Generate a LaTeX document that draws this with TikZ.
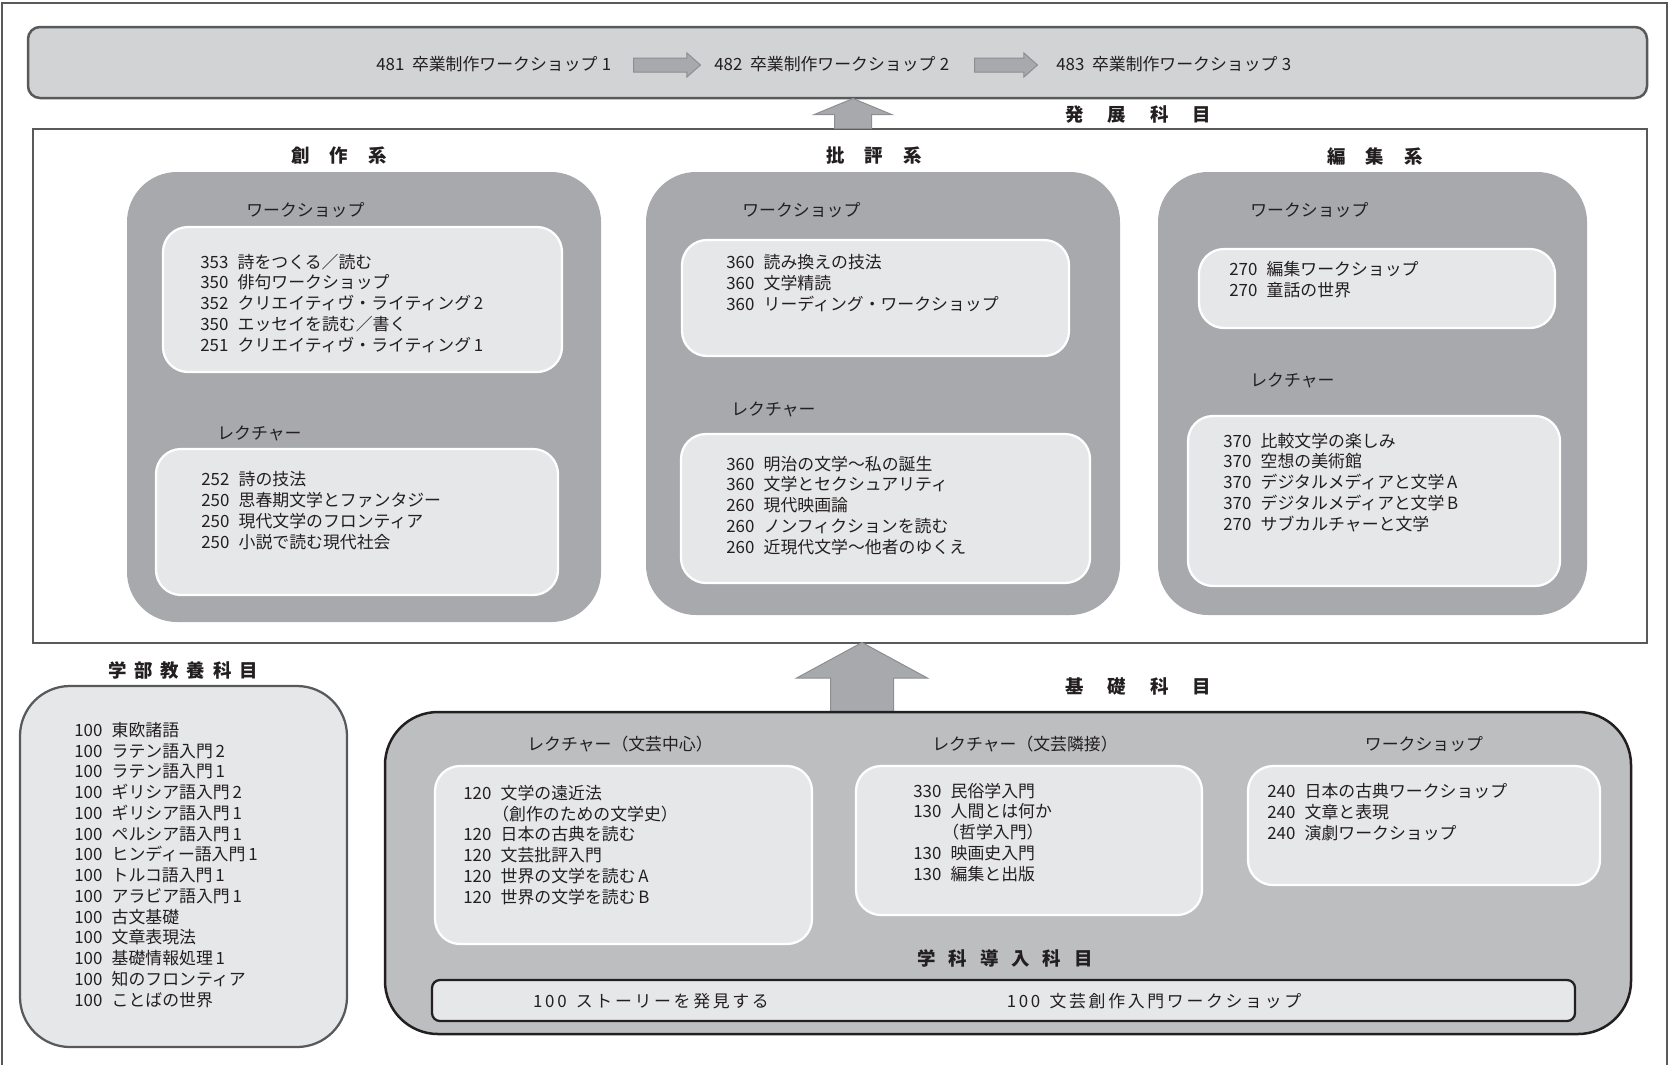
\documentclass[tikz,border=0pt]{standalone}
\usepackage{fontspec}
\setmainfont{Noto Sans CJK JP}
\usepackage{xcolor}
\usetikzlibrary{positioning, fit, shapes.arrows}
\definecolor{bandgray}{HTML}{D1D3D4}
\definecolor{colgray}{HTML}{A7A9AC}
\definecolor{boxgray}{HTML}{E6E7E8}
\definecolor{kisogray}{HTML}{BCBEC0}
\definecolor{linegray}{HTML}{58595B}
\definecolor{inkblack}{HTML}{231F20}
\definecolor{arrowedge}{HTML}{8C8E91}
\newcommand{\crs}[2]{#1\hspace{.55em}#2}
\newcommand{\contline}[1]{\phantom{000}\hspace{.05em}#1}
\tikzstyle{Band} = [draw=linegray, line width=0.05cm, fill=bandgray,
rounded corners=0.24cm, inner sep=0]
\tikzstyle{Frame} = [draw=linegray, line width=0.045cm, inner sep=0]
\tikzstyle{Column} = [fill=colgray, rounded corners=1cm, inner sep=0]
\tikzstyle{Panel} = [draw=white, line width=0.045cm, fill=boxgray,
rounded corners=0.5cm, inner sep=0]
\tikzstyle{List} = [align=left, inner sep=0, text=inkblack,
font=\fontsize{9.6}{11.8}\selectfont]
\tikzstyle{Label} = [inner sep=0, text=inkblack,
font=\fontsize{9.6}{11.8}\selectfont]
\tikzstyle{Heading} = [inner sep=0, text=inkblack,
font=\fontsize{10.5}{12}\selectfont\bfseries]
\tikzstyle{FatArrow} = [single arrow, draw=arrowedge, fill=colgray,
line width=0.02cm, inner xsep=0, minimum width=0pt, anchor=tail]

\begin{document}
\begin{tikzpicture}[x=0.02cm, y=-0.02cm]
    \useasboundingbox (0,0) rectangle (1672,1065);
    \draw[linegray, line width=0.04cm] (2,1065) -- (2,3) -- (1667,3) -- (1667,1065);

    \node[Band, fit={(28,27)(1647,98)}] (develop) {};
    \node[Label, anchor=base west] (t481) at (376,70) {481\hspace{.45em}卒業制作ワークショップ\hspace{.25em}1};
    \node[Label, anchor=base west] (t482) at (714,70) {482\hspace{.45em}卒業制作ワークショップ\hspace{.25em}2};
    \node[Label, anchor=base west] (t483) at (1056,70) {483\hspace{.45em}卒業制作ワークショップ\hspace{.25em}3};
    \node[FatArrow, minimum height=1.34cm, inner ysep=0.13cm,
        single arrow head extend=0.1cm, single arrow tip angle=83] (next1) at (633,65) {};
    \node[FatArrow, minimum height=1.26cm, inner ysep=0.13cm,
        single arrow head extend=0.1cm, single arrow tip angle=83] (next2) at (974,65) {};
    \node[Heading] (develophead) at (1138,115) {発\hspace{1.3em}展\hspace{1.3em}科\hspace{1.3em}目};

    \node[Frame, fit={(33,129)(1647,643)}] (upper) {};
    \node[FatArrow, rotate=90, minimum height=0.6cm, inner ysep=0.36cm,
        single arrow head extend=0.41cm, single arrow tip angle=135] (toDevelop) at (853,129) {};

    \node[Heading] (sousakuhead) at (339,156) {創\hspace{1.1em}作\hspace{1.1em}系};
    \node[Heading] (hihyouhead) at (874,156) {批\hspace{1.1em}評\hspace{1.1em}系};
    \node[Heading] (henshuuhead) at (1375,156) {編\hspace{1.1em}集\hspace{1.1em}系};

    \node[Column, fit={(127,172)(601,622)}] (sousaku) {};
    \node[Column, fit={(646,172)(1120,615)}] (hihyou) {};
    \node[Column, fit={(1158,172)(1587,615)}] (henshuu) {};

    \node[Label, anchor=base west] (sousakuWSlabel) at (246,216) {ワークショップ};
    \node[Panel, fit={(163,227)(562,372)}] (sousakuWS) {};
    \node[List, anchor=base west] at (200,351) {\crs{353}{詩をつくる／読む}\\
        \crs{350}{俳句ワークショップ}\\
        \crs{352}{クリエイティヴ・ライティング\,2}\\
        \crs{350}{エッセイを読む／書く}\\
        \crs{251}{クリエイティヴ・ライティング\,1}};
    \node[Label, anchor=base west] (sousakuLlabel) at (217,439) {レクチャー};
    \node[Panel, fit={(156,449)(558,595)}] (sousakuL) {};
    \node[List, anchor=base west] at (201,548) {\crs{252}{詩の技法}\\
        \crs{250}{思春期文学とファンタジー}\\
        \crs{250}{現代文学のフロンティア}\\
        \crs{250}{小説で読む現代社会}};

    \node[Label, anchor=base west] (hihyouWSlabel) at (742,216) {ワークショップ};
    \node[Panel, fit={(682,240)(1069,356)}] (hihyouWS) {};
    \node[List, anchor=base west] at (726,310) {\crs{360}{読み換えの技法}\\
        \crs{360}{文学精読}\\
        \crs{360}{リーディング・ワークショップ}};
    \node[Label, anchor=base west] (hihyouLlabel) at (731,415) {レクチャー};
    \node[Panel, fit={(681,434)(1090,583)}] (hihyouL) {};
    \node[List, anchor=base west] at (726,553) {\crs{360}{明治の文学〜私の誕生}\\
        \crs{360}{文学とセクシュアリティ}\\
        \crs{260}{現代映画論}\\
        \crs{260}{ノンフィクションを読む}\\
        \crs{260}{近現代文学〜他者のゆくえ}};

    \node[Label, anchor=base west] (henshuuWSlabel) at (1250,216) {ワークショップ};
    \node[Panel, fit={(1199,249)(1555,328)}] (henshuuWS) {};
    \node[List, anchor=base west] at (1229,296) {\crs{270}{編集ワークショップ}\\
        \crs{270}{童話の世界}};
    \node[Label, anchor=base west] (henshuuLlabel) at (1250,386) {レクチャー};
    \node[Panel, fit={(1188,416)(1560,586)}] (henshuuL) {};
    \node[List, anchor=base west] at (1223,530) {\crs{370}{比較文学の楽しみ}\\
        \crs{370}{空想の美術館}\\
        \crs{370}{デジタルメディアと文学\,A}\\
        \crs{370}{デジタルメディアと文学\,B}\\
        \crs{270}{サブカルチャーと文学}};

    \node[Heading] (kyouyouhead) at (183,670) {学\hspace{.42em}部\hspace{.42em}教\hspace{.42em}養\hspace{.42em}科\hspace{.42em}目};
    \node[Frame, fill=boxgray, rounded corners=1cm, fit={(20,686)(347,1047)}] (kyouyou) {};
    \node[List, anchor=base west] at (74,1006) {\crs{100}{東欧諸語}\\
        \crs{100}{ラテン語入門\,2}\\
        \crs{100}{ラテン語入門\,1}\\
        \crs{100}{ギリシア語入門\,2}\\
        \crs{100}{ギリシア語入門\,1}\\
        \crs{100}{ペルシア語入門\,1}\\
        \crs{100}{ヒンディー語入門\,1}\\
        \crs{100}{トルコ語入門\,1}\\
        \crs{100}{アラビア語入門\,1}\\
        \crs{100}{古文基礎}\\
        \crs{100}{文章表現法}\\
        \crs{100}{基礎情報処理\,1}\\
        \crs{100}{知のフロンティア}\\
        \crs{100}{ことばの世界}};

    \node[Heading] (kisohead) at (1138,686) {基\hspace{1.3em}礎\hspace{1.3em}科\hspace{1.3em}目};
    \node[FatArrow, rotate=90, minimum height=1.38cm, inner ysep=0.62cm,
        single arrow head extend=0.68cm, single arrow tip angle=123] (toUpper) at (862,712) {};
    \node[draw=inkblack, line width=0.05cm, fill=kisogray, rounded corners=1.06cm, inner sep=0,
        fit={(385,712)(1631,1034)}] (kiso) {};

    \node[Label] (bungeiLabel) at (620,744) {レクチャー（文芸中心）};
    \node[Label] (ringeiLabel) at (1025,744) {レクチャー（文芸隣接）};
    \node[Label] (kisoWSlabel) at (1424,744) {ワークショップ};
    \node[Panel, fit={(435,766)(812,944)}] (bungei) {};
    \node[Panel, fit={(856,766)(1202,915)}] (ringei) {};
    \node[Panel, fit={(1248,766)(1600,885)}] (kisoWS) {};
    \node[List, anchor=base west] at (463,903) {\crs{120}{文学の遠近法}\\
        \contline{（創作のための文学史）}\\
        \crs{120}{日本の古典を読む}\\
        \crs{120}{文芸批評入門}\\
        \crs{120}{世界の文学を読む\,A}\\
        \crs{120}{世界の文学を読む\,B}};
    \node[List, anchor=base west] at (913,880) {\crs{330}{民俗学入門}\\
        \crs{130}{人間とは何か}\\
        \contline{（哲学入門）}\\
        \crs{130}{映画史入門}\\
        \crs{130}{編集と出版}};
    \node[List, anchor=base west] at (1267,839) {\crs{240}{日本の古典ワークショップ}\\
        \crs{240}{文章と表現}\\
        \crs{240}{演劇ワークショップ}};

    \node[Heading] (introhead) at (1005,958) {学\hspace{.7em}科\hspace{.7em}導\hspace{.7em}入\hspace{.7em}科\hspace{.7em}目};
    \node[draw=inkblack, line width=0.045cm, fill=boxgray, rounded corners=0.16cm, inner sep=0,
        fit={(432,980)(1575,1021)}] (intro) {};
    \node[Label] (story) at (651,1001) {\addfontfeature{LetterSpace=16}\crs{100}{ストーリーを発見する}};
    \node[Label] (nyuumon) at (1154,1001) {\addfontfeature{LetterSpace=16}\crs{100}{文芸創作入門ワークショップ}};
\end{tikzpicture}
\end{document}
